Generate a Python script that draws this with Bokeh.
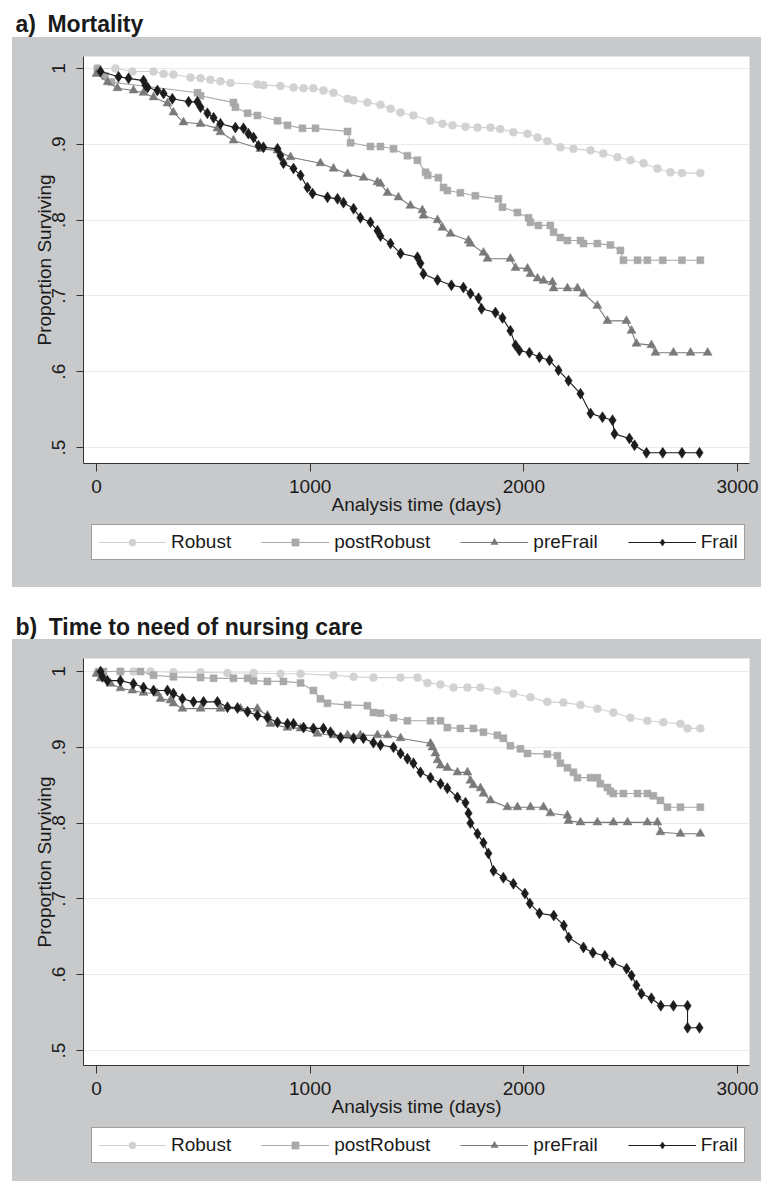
from bokeh.plotting import figure
from bokeh.models import Range1d, Legend, LegendItem, FixedTicker, Label, Spacer
from bokeh.layouts import column, row
from bokeh.embed import file_html
from bokeh.resources import INLINE

FONT = "Liberation Sans"
GRAY = "#c8c9cb"
TXT = "#1a1a1a"

series_names = ["Robust", "postRobust", "preFrail", "Frail"]
x_ticks = [0, 1000, 2000, 3000]
y_ticks = [0.5, 0.6, 0.7, 0.8, 0.9, 1.0]
y_tick_labels = [".5", ".6", ".7", ".8", ".9", "1"]
x_label = "Analysis time (days)"
y_label = "Proportion Surviving"
title_a = "a)\u2002Mortality"
title_b = "b)\u2002Time to need of nursing care"

# ---------------- Panel a: Mortality ----------------
a_robust_t = [5, 89, 168, 267, 314, 360, 440, 487, 533, 580, 627, 753, 781, 861, 922, 969, 1015,
              1062, 1109, 1175, 1203, 1268, 1329, 1376, 1423, 1483, 1563, 1619, 1666, 1727, 1783,
              1844, 1890, 1951, 2017, 2064, 2110, 2171, 2232, 2312, 2372, 2438, 2499, 2560, 2625,
              2686, 2740, 2826]
a_robust_s = [1.0, 1.0, 0.996, 0.996, 0.993, 0.992, 0.988, 0.987, 0.985, 0.983, 0.981, 0.979, 0.978,
              0.977, 0.975, 0.974, 0.974, 0.971, 0.968, 0.960, 0.958, 0.955, 0.952, 0.947, 0.942,
              0.938, 0.931, 0.927, 0.925, 0.923, 0.922, 0.922, 0.920, 0.916, 0.914, 0.909, 0.904,
              0.896, 0.894, 0.892, 0.888, 0.883, 0.879, 0.875, 0.868, 0.863, 0.862, 0.862]

a_postrobust_t = [5, 40, 70, 473, 487, 641, 650, 707, 753, 847, 894, 964, 1025, 1175, 1189, 1282,
                  1329, 1390, 1455, 1502, 1540, 1550, 1600, 1624, 1642, 1703, 1773, 1881, 1900, 1970,
                  2022, 2031, 2068, 2124, 2139, 2171, 2204, 2265, 2279, 2344, 2405, 2452, 2466, 2532,
                  2578, 2650, 2740, 2826]
a_postrobust_s = [1.0, 0.990, 0.982, 0.968, 0.964, 0.955, 0.949, 0.941, 0.938, 0.931, 0.925, 0.921,
                  0.921, 0.917, 0.902, 0.897, 0.897, 0.894, 0.885, 0.879, 0.863, 0.859, 0.856, 0.843,
                  0.839, 0.836, 0.832, 0.828, 0.817, 0.810, 0.803, 0.797, 0.793, 0.793, 0.784, 0.777,
                  0.773, 0.773, 0.769, 0.769, 0.767, 0.760, 0.747, 0.747, 0.747, 0.747, 0.747, 0.747]

a_prefrail_t = [0, 52, 98, 173, 220, 267, 332, 360, 407, 487, 566, 580, 641, 767, 847, 908, 1048,
                1109, 1175, 1250, 1315, 1329, 1362, 1413, 1469, 1525, 1530, 1596, 1619, 1657, 1741,
                1750, 1811, 1830, 1937, 1961, 2017, 2031, 2064, 2092, 2134, 2139, 2204, 2251, 2279,
                2344, 2391, 2480, 2504, 2527, 2597, 2616, 2700, 2780, 2860]
a_prefrail_s = [0.993, 0.982, 0.974, 0.971, 0.968, 0.962, 0.954, 0.942, 0.929, 0.927, 0.921, 0.916,
                0.905, 0.894, 0.892, 0.883, 0.875, 0.868, 0.861, 0.856, 0.850, 0.848, 0.836, 0.830,
                0.819, 0.813, 0.806, 0.800, 0.790, 0.782, 0.773, 0.769, 0.757, 0.749, 0.749, 0.737,
                0.736, 0.729, 0.723, 0.720, 0.718, 0.710, 0.710, 0.710, 0.703, 0.687, 0.667, 0.667,
                0.654, 0.637, 0.635, 0.625, 0.625, 0.625, 0.625]

a_frail_t = [19, 103, 150, 220, 229, 239, 285, 314, 355, 431, 472, 487, 519, 548, 580, 650, 688,
             711, 735, 758, 781, 847, 861, 875, 922, 955, 987, 1011, 1081, 1128, 1156, 1203, 1235,
             1282, 1315, 1329, 1376, 1423, 1502, 1516, 1530, 1596, 1661, 1717, 1750, 1788, 1802,
             1867, 1900, 1937, 1961, 1979, 2026, 2073, 2120, 2162, 2209, 2265, 2312, 2368, 2415,
             2424, 2494, 2518, 2574, 2650, 2740, 2822]
a_frail_s = [0.996, 0.989, 0.987, 0.984, 0.978, 0.975, 0.971, 0.967, 0.960, 0.956, 0.956, 0.949,
             0.941, 0.935, 0.927, 0.922, 0.921, 0.914, 0.909, 0.898, 0.896, 0.894, 0.885, 0.875,
             0.868, 0.859, 0.843, 0.835, 0.830, 0.828, 0.823, 0.815, 0.803, 0.797, 0.786, 0.779,
             0.769, 0.756, 0.751, 0.743, 0.729, 0.721, 0.714, 0.711, 0.703, 0.697, 0.683, 0.678,
             0.671, 0.654, 0.635, 0.628, 0.625, 0.619, 0.615, 0.602, 0.588, 0.571, 0.545, 0.540,
             0.536, 0.518, 0.512, 0.503, 0.493, 0.493, 0.493, 0.493]

# ---------------- Panel b: Time to need of nursing care ----------------
b_robust_t = [5, 112, 173, 253, 360, 487, 613, 735, 861, 955, 1109, 1203, 1296, 1423, 1502, 1549,
              1610, 1671, 1736, 1797, 1876, 1951, 2031, 2110, 2185, 2265, 2344, 2419, 2499, 2578,
              2653, 2733, 2766, 2826]
b_robust_s = [1.0, 1.0, 1.0, 1.0, 0.999, 0.999, 0.998, 0.998, 0.997, 0.997, 0.995, 0.993, 0.992,
              0.992, 0.992, 0.985, 0.983, 0.979, 0.979, 0.979, 0.975, 0.971, 0.966, 0.960, 0.959,
              0.956, 0.951, 0.946, 0.939, 0.935, 0.933, 0.931, 0.925, 0.925]

b_postrobust_t = [33, 112, 206, 267, 360, 487, 548, 641, 707, 735, 800, 875, 955, 1015, 1048, 1081,
                  1175, 1268, 1296, 1329, 1390, 1455, 1563, 1610, 1642, 1703, 1764, 1811, 1876, 1904,
                  1937, 1984, 2017, 2110, 2157, 2171, 2204, 2232, 2251, 2312, 2344, 2358, 2391, 2405,
                  2419, 2466, 2532, 2578, 2606, 2639, 2672, 2733, 2826]
b_postrobust_s = [1.0, 1.0, 1.0, 0.995, 0.993, 0.992, 0.991, 0.991, 0.991, 0.988, 0.987, 0.987,
                  0.985, 0.975, 0.964, 0.958, 0.956, 0.955, 0.946, 0.945, 0.939, 0.935, 0.935, 0.935,
                  0.926, 0.925, 0.925, 0.920, 0.916, 0.912, 0.902, 0.898, 0.892, 0.891, 0.889, 0.879,
                  0.873, 0.867, 0.860, 0.860, 0.860, 0.852, 0.847, 0.842, 0.839, 0.839, 0.839, 0.839,
                  0.836, 0.830, 0.821, 0.821, 0.821]

b_prefrail_t = [0, 19, 66, 112, 168, 220, 285, 300, 346, 360, 402, 487, 580, 674, 753, 800, 814, 894,
                955, 1034, 1109, 1175, 1235, 1315, 1362, 1423, 1563, 1572, 1586, 1596, 1610, 1642,
                1689, 1736, 1750, 1764, 1797, 1811, 1844, 1923, 1970, 2031, 2092, 2124, 2204, 2209,
                2265, 2344, 2419, 2485, 2578, 2625, 2639, 2733, 2826]
b_prefrail_s = [0.997, 0.991, 0.984, 0.978, 0.975, 0.972, 0.971, 0.964, 0.962, 0.958, 0.951, 0.951,
                0.951, 0.951, 0.951, 0.942, 0.931, 0.926, 0.925, 0.918, 0.916, 0.916, 0.916, 0.916,
                0.916, 0.912, 0.905, 0.900, 0.892, 0.883, 0.876, 0.873, 0.867, 0.867, 0.856, 0.850,
                0.846, 0.839, 0.830, 0.821, 0.821, 0.821, 0.821, 0.813, 0.810, 0.803, 0.801, 0.801,
                0.801, 0.801, 0.801, 0.801, 0.788, 0.786, 0.786]

b_frail_t = [19, 28, 51, 112, 173, 220, 267, 332, 360, 402, 454, 501, 566, 613, 660, 707, 753, 800,
             847, 894, 922, 969, 1015, 1062, 1095, 1142, 1203, 1249, 1296, 1329, 1390, 1423, 1455,
             1483, 1516, 1563, 1610, 1642, 1689, 1727, 1741, 1750, 1783, 1811, 1834, 1858, 1904,
             1951, 2005, 2028, 2073, 2140, 2187, 2210, 2279, 2323, 2379, 2415, 2481, 2504, 2527,
             2550, 2597, 2641, 2700, 2766, 2766, 2822]
b_frail_s = [1.0, 0.993, 0.988, 0.988, 0.984, 0.979, 0.975, 0.975, 0.971, 0.964, 0.960, 0.960,
             0.960, 0.953, 0.952, 0.947, 0.942, 0.939, 0.933, 0.931, 0.931, 0.926, 0.925, 0.925,
             0.920, 0.913, 0.912, 0.912, 0.906, 0.903, 0.900, 0.892, 0.885, 0.879, 0.867, 0.860,
             0.852, 0.846, 0.834, 0.827, 0.813, 0.800, 0.786, 0.774, 0.760, 0.737, 0.728, 0.720,
             0.707, 0.694, 0.681, 0.678, 0.665, 0.649, 0.636, 0.629, 0.625, 0.616, 0.608, 0.599,
             0.586, 0.575, 0.569, 0.559, 0.559, 0.559, 0.530, 0.530]

panel_a = [(a_robust_t, a_robust_s), (a_postrobust_t, a_postrobust_s),
           (a_prefrail_t, a_prefrail_s), (a_frail_t, a_frail_s)]
panel_b = [(b_robust_t, b_robust_s), (b_postrobust_t, b_postrobust_s),
           (b_prefrail_t, b_prefrail_s), (b_frail_t, b_frail_s)]

STYLES = [
    dict(color="#d2d2d2", marker="circle", size=8),
    dict(color="#a9a9a9", marker="square", size=7),
    dict(color="#7a7a7a", marker="triangle", size=9),
    dict(color="#1c1c1c", marker="diamond", size=11),
]


def add_series(p, data):
    out = []
    for name, (t, s), st in zip(series_names, data, STYLES):
        lr = p.line(t, s, line_color=st["color"], line_width=1.1)
        sr = p.scatter(t, s, marker=st["marker"], size=st["size"],
                       fill_color=st["color"], line_color=st["color"], line_width=0.5)
        out.append((name, lr, sr))
    return out


def make_title(text, height, baseline):
    t = figure(width=761, height=height, output_backend="svg", toolbar_location=None,
               x_range=Range1d(0, 1), y_range=Range1d(0, 1),
               x_axis_location=None, y_axis_location=None,
               min_border=0, outline_line_color=None,
               border_fill_color="white", background_fill_color="white")
    t.grid.visible = False
    t.add_layout(Label(x=15, y=baseline, x_units="screen", y_units="screen", text=text,
                       text_font=FONT, text_font_size="23px", text_font_style="bold",
                       text_color=TXT, text_baseline="alphabetic"))
    return t


def make_panel(data, y0, y1, height, mb_bottom):
    p = figure(width=749, height=height, output_backend="svg", toolbar_location=None,
               x_range=Range1d(-60.8, 3056), y_range=Range1d(y0, y1),
               min_border_left=71, min_border_right=12, min_border_top=19,
               min_border_bottom=mb_bottom,
               background_fill_color="white", border_fill_color=GRAY,
               outline_line_color=None)
    add_series(p, data)

    p.xgrid.visible = False
    p.ygrid.ticker = FixedTicker(ticks=y_ticks)
    p.ygrid.grid_line_color = "#ebebeb"
    p.ygrid.grid_line_width = 1

    for ax in (p.xaxis[0], p.yaxis[0]):
        ax.axis_line_color = "#333333"
        ax.major_tick_line_color = "#333333"
        ax.minor_tick_line_color = None
        ax.major_tick_in = 0
        ax.major_label_text_font = FONT
        ax.major_label_text_font_size = "19px"
        ax.major_label_text_color = TXT
        ax.axis_label_text_font = FONT
        ax.axis_label_text_font_size = "19px"
        ax.axis_label_text_font_style = "normal"
        ax.axis_label_text_color = TXT

    xa = p.xaxis[0]
    xa.ticker = FixedTicker(ticks=x_ticks)
    xa.major_tick_out = 8
    xa.major_label_standoff = 8
    xa.axis_label = x_label
    xa.axis_label_standoff = -2

    ya = p.yaxis[0]
    ya.ticker = FixedTicker(ticks=y_ticks)
    ya.major_label_overrides = dict(zip(y_ticks, y_tick_labels))
    ya.major_label_orientation = "vertical"
    ya.major_tick_out = 7
    ya.major_label_standoff = 11
    ya.axis_label = y_label
    ya.axis_label_standoff = -5
    return p


def make_legend_strip(data, height, loc):
    # the legend sits on its own grey strip that continues the panel background
    g = figure(width=749, height=height, output_backend="svg", toolbar_location=None,
               x_range=Range1d(-2, -1), y_range=Range1d(-2, -1),
               x_axis_location=None, y_axis_location=None,
               min_border=0, outline_line_color=None,
               border_fill_color=GRAY, background_fill_color=GRAY)
    g.grid.visible = False
    items = [LegendItem(label=n, renderers=[lr, sr]) for n, lr, sr in add_series(g, data)]
    legend = Legend(items=items, orientation="horizontal", location=loc,
                    label_text_font=FONT, label_text_font_size="19px", label_text_color=TXT,
                    glyph_width=68, glyph_height=18, label_height=22, label_standoff=5,
                    spacing=30, padding=6, margin=0,
                    border_line_color="#404040", border_line_width=1,
                    background_fill_color="white", background_fill_alpha=1.0)
    g.add_layout(legend, "center")
    return g


def indent(fig, h):
    return row(Spacer(width=12, height=h, styles={"background-color": "white"}), fig,
               spacing=0, styles={"background-color": GRAY})


ta = make_title(title_a, 37, 14)
pa = make_panel(panel_a, 0.4789, 1.0158, 483, 57)
la = make_legend_strip(panel_a, 67, (79, 27))
tb = make_title(title_b, 52, 13)
pb = make_panel(panel_b, 0.4802, 1.0172, 483, 57)
lb = make_legend_strip(panel_b, 59, (79, 18))

layout = column(ta, column(indent(pa, 483), indent(la, 67), spacing=0,
                           styles={"background-color": GRAY}),
                tb, column(indent(pb, 483), indent(lb, 59), spacing=0,
                           styles={"background-color": GRAY}),
                spacing=0)

with open("out.html", "w") as f:
    f.write(file_html(layout, INLINE))
